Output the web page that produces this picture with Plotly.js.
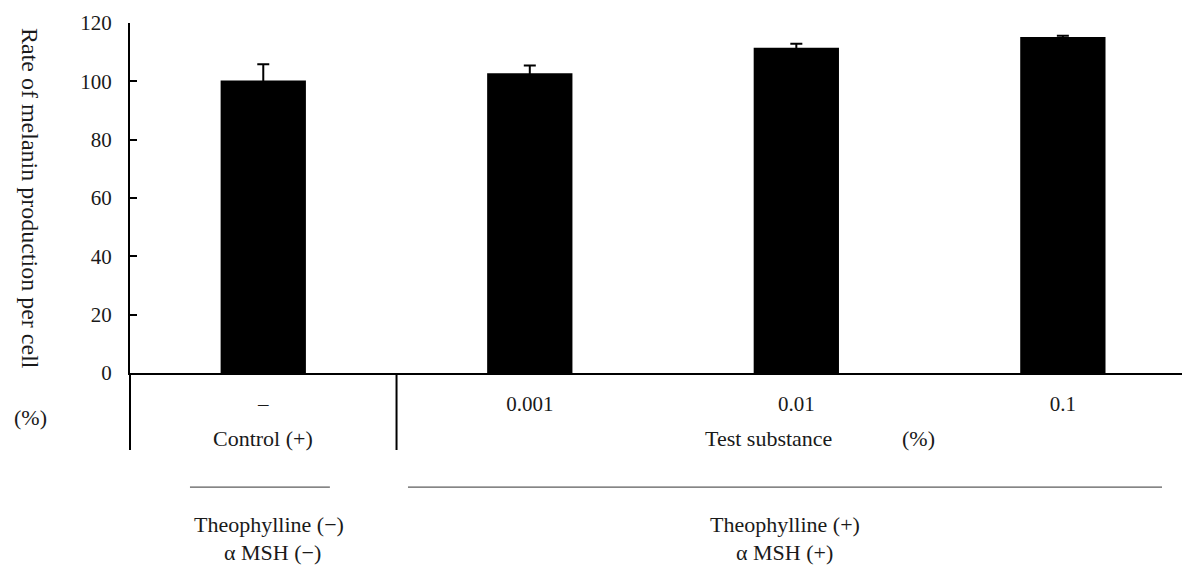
<!DOCTYPE html>
<html>
<head>
<meta charset="utf-8">
<script src="https://cdn.plot.ly/plotly-3.0.1.min.js"></script>
<style>html,body{margin:0;padding:0;background:#fff;}#chart{width:1182px;height:565px;}</style>
</head>
<body>
<div id="chart"></div>
<script>
// ---- data ----
const categories = ["–", "0.001", "0.01", "0.1"];
const melaninRate = [100.3, 102.8, 111.5, 115.2];
const errorPlus = [5.6, 2.6, 1.4, 0.4];
const yTickValues = [0, 20, 40, 60, 80, 100, 120];
const yTitle = "Rate of melanin production per cell";
const yUnit = "(%)";
const groupLabels = ["Control (+)", "Test substance", "(%)"];
const conditionLines1 = ["Theophylline (−)", "Theophylline (+)"];
const conditionLines2 = ["α MSH (−)", "α MSH (+)"];

const FONT = "Liberation Serif, Times New Roman, serif";
const TXT = "#1a1a1a";
const idx = categories.map((c, i) => i);

const trace = {
  type: "bar",
  x: idx,
  y: melaninRate,
  width: 0.32,
  marker: {color: "#000000", line: {width: 0}},
  error_y: {
    type: "data", symmetric: true, array: errorPlus,
    color: "#000000", thickness: 2, width: 6
  },
  hoverinfo: "skip"
};

const lineStyle = {color: "#000000", width: 2};
const thinLine = {color: "#333333", width: 1};
const annFont = {family: FONT, size: 22, color: TXT};

function ann(text, xref, x, y, extra) {
  return Object.assign({text: text, xref: xref, yref: "paper", x: x, y: y,
    xanchor: "center", yanchor: "middle", showarrow: false, font: annFont}, extra || {});
}

const layout = {
  width: 1182, height: 565,
  margin: {l: 130, r: 0, t: 23, b: 192},
  paper_bgcolor: "#ffffff", plot_bgcolor: "#ffffff",
  showlegend: false,
  font: {family: FONT, size: 21, color: TXT},
  xaxis: {
    range: [-0.5, 3.447],
    tickmode: "array", tickvals: idx, ticktext: categories,
    ticks: "", showgrid: false, zeroline: false,
    showline: true, linecolor: "#000000", linewidth: 2,
    ticklabelstandoff: 11,
    tickfont: {family: FONT, size: 21, color: TXT},
    fixedrange: true
  },
  yaxis: {
    range: [0, 120],
    tickmode: "array", tickvals: yTickValues,
    ticks: "inside", ticklen: 7, tickwidth: 2, tickcolor: "#000000",
    showgrid: false, zeroline: false,
    showline: true, linecolor: "#000000", linewidth: 2,
    ticklabelstandoff: 12,
    tickfont: {family: FONT, size: 21, color: TXT},
    fixedrange: true
  },
  shapes: [
    {type: "line", xref: "paper", yref: "paper", x0: 0, x1: 0, y0: 0, y1: -0.22, line: lineStyle},
    {type: "line", xref: "x", yref: "paper", x0: 0.5, x1: 0.5, y0: 0, y1: -0.22, line: lineStyle},
    {type: "line", xref: "x", yref: "paper", x0: -0.275, x1: 0.25, y0: -0.326, y1: -0.326, line: thinLine},
    {type: "line", xref: "x", yref: "paper", x0: 0.543, x1: 3.372, y0: -0.326, y1: -0.326, line: thinLine}
  ],
  annotations: [
    ann(yTitle, "paper", -0.095, 0.5, {textangle: 90, font: {family: FONT, size: 24, color: TXT}}),
    ann(yUnit, "paper", -0.095, -0.126),
    ann(groupLabels[0], "x", 0, -0.186),
    ann(groupLabels[1], "x", 1.896, -0.186),
    ann(groupLabels[2], "x", 2.457, -0.186),
    ann(conditionLines1[0], "x", 0.02, -0.434),
    ann(conditionLines2[0], "x", 0.033, -0.514),
    ann(conditionLines1[1], "x", 1.956, -0.434),
    ann(conditionLines2[1], "x", 1.956, -0.514)
  ]
};

Plotly.newPlot("chart", [trace], layout, {displayModeBar: false, staticPlot: true});
</script>
</body>
</html>
